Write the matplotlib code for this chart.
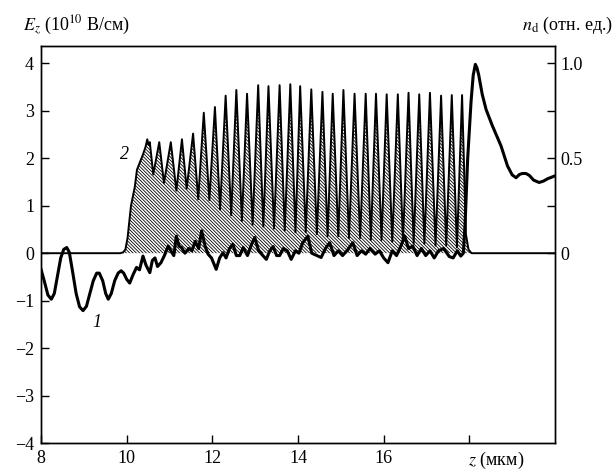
import numpy as np
import matplotlib
matplotlib.use("Agg")
import matplotlib.pyplot as plt

plt.rcParams['font.family'] = ['Liberation Serif', 'DejaVu Serif']
plt.rcParams['mathtext.fontset'] = 'stix'
plt.rcParams['hatch.linewidth'] = 0.6

## кривая 2 : плотность n_d (отн. ед.)
z_n = [8.0, 9.85, 9.92, 9.97, 10.02, 10.1, 10.19, 10.24, 10.31, 10.38, 10.44, 10.48, 10.51, 10.54,
       10.62, 10.76, 10.87, 11.03, 11.16, 11.29, 11.40, 11.55, 11.67, 11.80, 11.93,
       12.06, 12.18, 12.31, 12.44, 12.56, 12.69, 12.81, 12.94, 13.07, 13.19, 13.31, 13.44,
       13.57, 13.69, 13.82, 13.94, 14.05, 14.18, 14.31, 14.44, 14.57, 14.69, 14.81, 14.94,
       15.06, 15.19, 15.32, 15.45, 15.58, 15.70, 15.82, 15.95, 16.07, 16.20, 16.33, 16.45,
       16.58, 16.70, 16.83, 16.95, 17.08, 17.21, 17.34, 17.46, 17.59, 17.71, 17.83, 17.92,
       17.98, 18.05, 20.0]
n_d = [0.0, 0.0, 0.005, 0.02, 0.08, 0.25, 0.35, 0.44, 0.48, 0.52, 0.56, 0.60, 0.57, 0.585,
       0.415, 0.585, 0.37, 0.585, 0.33, 0.60, 0.34, 0.63, 0.285, 0.74, 0.28,
       0.77, 0.23, 0.83, 0.20, 0.86, 0.17, 0.84, 0.15, 0.885, 0.14, 0.88, 0.13,
       0.885, 0.12, 0.89, 0.11, 0.88, 0.11, 0.863, 0.10, 0.85, 0.09, 0.84, 0.09,
       0.86, 0.08, 0.84, 0.08, 0.84, 0.07, 0.84, 0.07, 0.837, 0.06, 0.837, 0.06,
       0.845, 0.05, 0.837, 0.05, 0.845, 0.04, 0.83, 0.04, 0.833, 0.03, 0.833, 0.10,
       0.02, 0.0, 0.0]

## кривая 1 : поле E_z (10^10 В/см)
z_e = [8.00, 8.08, 8.16, 8.24, 8.31, 8.38, 8.46, 8.53, 8.60, 8.66, 8.73, 8.82, 8.90, 8.98,
       9.06, 9.14, 9.22, 9.30, 9.36, 9.44, 9.51, 9.57, 9.64, 9.72, 9.80, 9.87, 9.93, 10.00,
       10.07, 10.15, 10.23, 10.30, 10.38, 10.45, 10.54,
       10.60, 10.66, 10.72, 10.80, 10.88, 10.97, 11.03, 11.10, 11.16, 11.22, 11.28, 11.36,
       11.45, 11.52, 11.60, 11.68, 11.75, 11.83, 11.90, 11.98, 12.09, 12.17, 12.25, 12.32,
       12.40, 12.48, 12.56, 12.64, 12.72, 12.82, 12.92, 12.99, 13.08, 13.18, 13.26, 13.34,
       13.42, 13.50, 13.57, 13.66, 13.75, 13.84, 13.94, 14.02, 14.11, 14.23, 14.32, 14.44,
       14.54, 14.64, 14.74, 14.84, 14.94, 15.04, 15.14, 15.28, 15.38, 15.48, 15.58, 15.68,
       15.80, 15.90, 16.00, 16.10, 16.20, 16.30, 16.40, 16.49, 16.58, 16.68, 16.78, 16.88,
       16.98, 17.08, 17.18, 17.28, 17.40, 17.53, 17.62, 17.72, 17.80, 17.86, 17.90, 17.96,
       18.04, 18.09, 18.14, 18.18, 18.22, 18.30, 18.39, 18.54, 18.74, 18.89, 19.00, 19.09,
       19.17, 19.24, 19.32, 19.40, 19.50, 19.63, 19.73, 19.83, 20.00]
E_z = [-0.34, -0.60, -0.88, -0.97, -0.85, -0.50, -0.10, 0.08, 0.12, 0.02, -0.35, -0.85, -1.13,
       -1.21, -1.12, -0.85, -0.58, -0.42, -0.42, -0.58, -0.85, -0.97, -0.85, -0.58, -0.42,
       -0.37, -0.42, -0.55, -0.63, -0.45, -0.30, -0.35, -0.06, -0.25, -0.41,
       -0.15, -0.10, -0.28, -0.20, -0.05, 0.15, 0.05, -0.05, 0.36, 0.15, 0.12,
       0.00, 0.10, 0.05, 0.25, 0.10, 0.47, 0.15, -0.02, -0.10, -0.34, -0.10, 0.01, -0.10,
       0.10, 0.19, -0.05, -0.05, 0.12, -0.05, 0.20, 0.33, 0.05, -0.05, -0.13, 0.05, 0.14,
       -0.05, -0.05, 0.10, 0.05, -0.13, 0.05, 0.00, 0.22, 0.36, 0.00, -0.05, -0.09, 0.10,
       0.22, -0.05, 0.05, -0.05, 0.05, 0.22, -0.05, 0.05, -0.02, 0.10, -0.02, 0.05, -0.10,
       -0.20, 0.05, -0.05, 0.15, 0.36, 0.10, 0.15, -0.05, 0.10, -0.05, 0.05, -0.10, 0.05,
       0.10, -0.07, -0.10, 0.05, -0.06, 0.00, 0.60, 1.98, 3.20, 3.75, 3.98, 3.90, 3.75, 3.35,
       3.03, 2.68, 2.26, 1.84, 1.65, 1.59, 1.66, 1.68, 1.68, 1.64, 1.54, 1.49, 1.52, 1.57,
       1.63]

fig = plt.figure(figsize=(6.16, 4.70), dpi=100)
ax1 = fig.add_axes([0.0666, 0.0574, 0.8344, 0.8446])
ax2 = ax1.twinx()

# densité hachurée sur l'axe de droite
ax2.fill_between(z_n, 0, n_d, facecolor='white', edgecolor='black', linewidth=0,
                 hatch='\\' * 10)
ax2.plot(z_n, n_d, color='black', lw=1.4)
ax1.plot(z_e, E_z, color='black', lw=2.2)

ax1.set_zorder(ax2.get_zorder() + 1)
ax1.patch.set_visible(False)

ax1.set_xlim(8, 20)
ax1.set_ylim(-4, 4.365)
ax2.set_ylim(-1, 4.365 / 4)

ax1.set_xticks([8, 10, 12, 14, 16, 18])
ax1.set_xticklabels(['8', '10', '12', '14', '16', ''])
ax1.set_yticks([-4, -3, -2, -1, 0, 1, 2, 3, 4])
ax2.set_yticks([0, 0.25, 0.5, 0.75, 1.0])
ax2.set_yticklabels(['0', '', '0.5', '', '1.0'])

ax1.tick_params(axis='both', direction='in', length=6, width=1, labelsize=13, pad=5)
ax2.tick_params(axis='y', direction='in', length=6, width=1, labelsize=13, pad=4)
for ax in (ax1, ax2):
    for s in ax.spines.values():
        s.set_linewidth(1.0)

fig.text(0.037, 0.936, r'$E_z$ (10$^{10}$ В/см)', fontsize=13, ha='left', va='baseline')
fig.text(0.995, 0.936, r'$n_\mathrm{d}$ (отн. ед.)', fontsize=13, ha='right', va='baseline')
fig.text(0.76, 0.011, r'$z$ (мкм)', fontsize=13, ha='left', va='baseline')

ax1.text(9.96, 2.08, '2', fontsize=13, style='italic', ha='center', va='center')
ax1.text(9.3, -1.46, '1', fontsize=13, style='italic', ha='center', va='center')

fig.savefig('out.png', dpi=100)
